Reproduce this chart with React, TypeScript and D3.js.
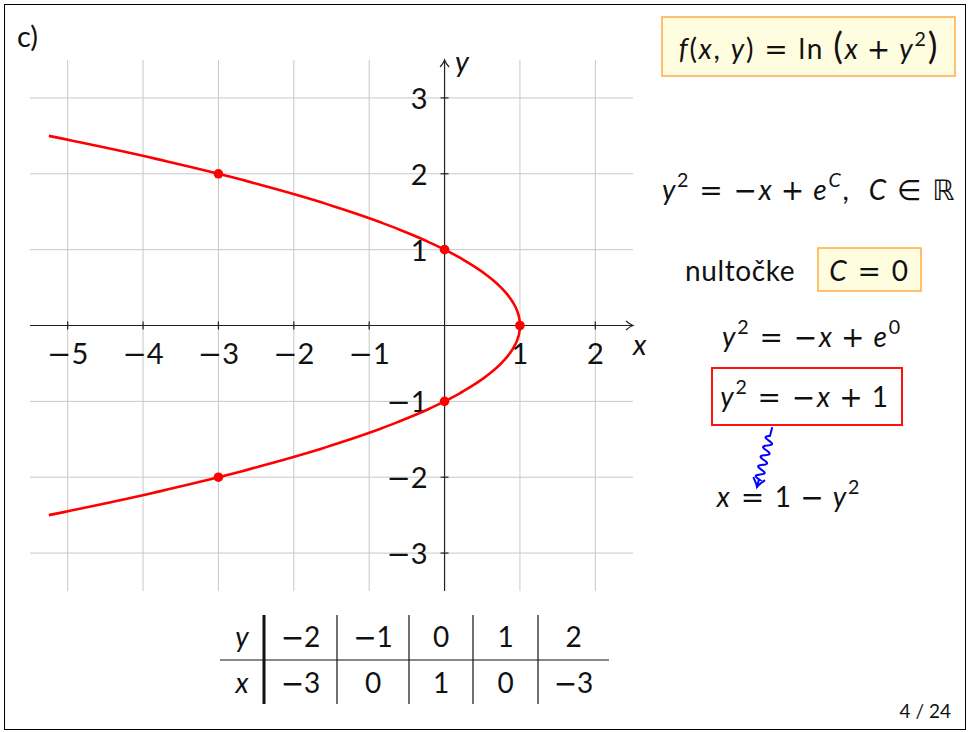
import React from "react";
import * as d3 from "d3";

// Axis ticks and table contents
const xTicks = [-5, -4, -3, -2, -1, 1, 2];
const yTicks = [-3, -2, -1, 1, 2, 3];
const gridX = [-5, -4, -3, -2, -1, 0, 1, 2];
const gridY = [-3, -2, -1, 0, 1, 2, 3];
const tableY = [-2, -1, 0, 1, 2];
const tableX = [-3, 0, 1, 0, -3];
const curveYRange = [-2.5, 2.5];

const W = 971;
const H = 732;
const FONT = "Lato, 'DejaVu Sans', sans-serif";
const OPFONT = "'DejaVu Sans', sans-serif";

const xScale = d3.scaleLinear().domain([-5.5, 2.5]).range([30, 633]);
const yScale = d3.scaleLinear().domain([-3.5, 3.5]).range([591, 60]);

// Number with a typographic minus sign
function Num({ v }: { v: number }) {
  if (v >= 0) return <>{String(v)}</>;
  return (
    <>
      <tspan fontFamily={OPFONT}>{"\u2212"}</tspan>
      <tspan>{String(Math.abs(v))}</tspan>
    </>
  );
}

type Part = [string, string?];

// Math-like line: "i" italic, "s" superscript, "si" italic superscript,
// "b" large delimiter, "rel" relation, "bin" binary operator, "un" unary operator
function MathText({ x, y, parts, size = 28, anchor = "start", fill = "#111", spacing = 1.8 }: { x: number; y: number; parts: Part[]; size?: number; anchor?: string; fill?: string; spacing?: number }) {
  let shift = 0;
  let pending = 0;
  const gaps: Record<string, number> = { rel: 0.32, bin: 0.26 };
  return (
    <text x={x} y={y} fontSize={size} fontFamily={FONT} textAnchor={anchor as any} fill={fill} letterSpacing={spacing} style={{ whiteSpace: "pre" }}>
      {parts.map(([t, st], i) => {
        const sup = st === "s" || st === "si";
        const target = sup ? -0.45 * size : 0;
        const dy = target - shift;
        shift = target;
        const gap = st && gaps[st] ? gaps[st] * size : 0;
        const dx = pending + gap;
        pending = gap;
        const isOp = st === "rel" || st === "bin" || st === "un";
        return (
          <tspan
            key={i}
            dy={dy}
            dx={dx}
            fontFamily={isOp ? OPFONT : undefined}
            fontStyle={st === "i" || st === "si" ? "italic" : "normal"}
            fontSize={sup ? size * 0.7 : st === "b" ? size * 1.3 : size}
          >
            {t}
          </tspan>
        );
      })}
    </text>
  );
}

function Squiggle({ x1, y1, x2, y2 }: { x1: number; y1: number; x2: number; y2: number }) {
  const dx = x2 - x1;
  const dy = y2 - y1;
  const L = Math.hypot(dx, dy);
  const ux = dx / L, uy = dy / L;
  const nx = -uy, ny = ux;
  const pts: [number, number][] = [];
  const lead = 8, tail = 7, amp = 4, wave = 10;
  for (let t = 0; t <= L; t += 0.5) {
    let off = 0;
    if (t > lead && t < L - tail) off = amp * Math.sin((2 * Math.PI * (t - lead)) / wave);
    pts.push([x1 + ux * t + nx * off, y1 + uy * t + ny * off]);
  }
  const line = d3.line();
  const ang = (Math.atan2(dy, dx) * 180) / Math.PI;
  return (
    <g stroke="#0000ff" fill="none" strokeWidth={2} strokeLinecap="round">
      <path d={line(pts) || ""} />
      <path d="M -8,-5.5 Q -2.5,-1 0,0 Q -2.5,1 -8,5.5" transform={`translate(${x2},${y2}) rotate(${ang})`} />
    </g>
  );
}

export default function App() {
  const x0 = xScale(0);
  const y0 = yScale(0);
  const curvePts = d3.range(curveYRange[0], curveYRange[1] + 1e-9, 0.02).map((y) => [xScale(1 - y * y), yScale(y)] as [number, number]);
  const curve = d3.line()(curvePts) || "";
  const colEdges = [220, 264, 337, 409, 473, 538, 609];
  const colMid = (i: number) => (colEdges[i] + colEdges[i + 1]) / 2;

  return (
    <div style={{ position: "absolute", left: 0, top: 0 }}>
      <svg width={W} height={H} style={{ display: "block", background: "#fff" }}>
        <rect x={4.5} y={4.5} width={961} height={725} fill="none" stroke="#000" strokeWidth={1} />
        <text x={17} y={47} fontSize={29} fontFamily={FONT} fill="#111">c)</text>

        {/* grid */}
        <g stroke="#c8c8c8" strokeWidth={1}>
          {gridX.map((v) => (
            <line key={"gx" + v} x1={xScale(v)} x2={xScale(v)} y1={60} y2={591} />
          ))}
          {gridY.map((v) => (
            <line key={"gy" + v} x1={30} x2={633} y1={yScale(v)} y2={yScale(v)} />
          ))}
        </g>

        {/* axes */}
        <g stroke="#222" strokeWidth={1.2} fill="none">
          <line x1={30} x2={632} y1={y0} y2={y0} />
          <line x1={x0} x2={x0} y1={591} y2={61} />
          <path d={`M ${626},${y0 - 4.5} Q ${630},${y0 - 1} ${633},${y0} Q ${630},${y0 + 1} ${626},${y0 + 4.5}`} />
          <path d={`M ${x0 - 4.5},${67} Q ${x0 - 1},${63} ${x0},${60} Q ${x0 + 1},${63} ${x0 + 4.5},${67}`} />
          {xTicks.map((v) => (
            <line key={"tx" + v} x1={xScale(v)} x2={xScale(v)} y1={y0 - 4} y2={y0 + 4} />
          ))}
          {yTicks.map((v) => (
            <line key={"ty" + v} x1={x0 - 4} x2={x0 + 4} y1={yScale(v)} y2={yScale(v)} />
          ))}
        </g>
        <g fontSize={29} fontFamily={FONT} fill="#111">
          {xTicks.map((v) => (
            <text key={"lx" + v} x={xScale(v)} y={y0 + 38} textAnchor="middle"><Num v={v} /></text>
          ))}
          {yTicks.map((v) => (
            <text key={"ly" + v} x={x0 - 17} y={yScale(v) + 11} textAnchor="end"><Num v={v} /></text>
          ))}
          <text x={633} y={355} fontStyle="italic">x</text>
          <text x={455} y={72} fontStyle="italic">y</text>
        </g>

        {/* curve x = 1 - y^2 */}
        <path d={curve} fill="none" stroke="#ff0000" strokeWidth={2.6} />
        {tableY.map((y, i) => (
          <circle key={"p" + i} cx={xScale(tableX[i])} cy={yScale(y)} r={4.8} fill="#ff0000" />
        ))}

        {/* right-hand notes */}
        <rect x={662} y={17} width={293} height={59} fill="#fffde0" stroke="#ffaa44" strokeWidth={1.5} />
        <MathText x={809} y={59} anchor="middle" parts={[["f", "i"], ["("], ["x", "i"], [", "], ["y", "i"], [")"], ["=", "rel"], ["ln "], ["(", "b"], ["x", "i"], ["+", "bin"], ["y", "i"], ["2", "s"], [")", "b"]]} />
        <MathText x={809} y={200} anchor="middle" parts={[["y", "i"], ["2", "s"], ["=", "rel"], ["\u2212", "un"], ["x", "i"], ["+", "bin"], ["e", "i"], ["C", "si"], [",  "], ["C", "i"], ["\u2208", "rel"], ["\u211D", "un"]]} />
        <text x={685} y={281} fontSize={28} fontFamily={FONT} fill="#111" letterSpacing={0.6}>nultočke</text>
        <rect x={818} y={248} width={103} height={43} fill="#fffde0" stroke="#ffaa44" strokeWidth={1.5} />
        <MathText x={869.5} y={281} anchor="middle" parts={[["C", "i"], ["=", "rel"], ["0"]]} />
        <MathText x={812} y={347} anchor="middle" parts={[["y", "i"], ["2", "s"], ["=", "rel"], ["\u2212", "un"], ["x", "i"], ["+", "bin"], ["e", "i"], ["0", "s"]]} />
        <rect x={712} y={368} width={190} height={57} fill="none" stroke="#ff1111" strokeWidth={2} />
        <MathText x={805} y={407} anchor="middle" parts={[["y", "i"], ["2", "s"], ["=", "rel"], ["\u2212", "un"], ["x", "i"], ["+", "bin"], ["1"]]} />
        <Squiggle x1={772} y1={428} x2={757} y2={487} />
        <MathText x={789} y={507} anchor="middle" parts={[["x", "i"], ["=", "rel"], ["1"], ["\u2212", "bin"], ["y", "i"], ["2", "s"]]} />

        {/* value table */}
        <g stroke="#111">
          <line x1={colEdges[0]} x2={colEdges[6]} y1={660} y2={660} strokeWidth={1.2} />
          <line x1={colEdges[1]} x2={colEdges[1]} y1={615} y2={704} strokeWidth={3} />
          {colEdges.slice(2, 6).map((e) => (
            <line key={"c" + e} x1={e} x2={e} y1={615} y2={704} strokeWidth={1.2} />
          ))}
        </g>
        <g fontSize={28} fontFamily={FONT} fill="#111" textAnchor="middle">
          <text x={colMid(0)} y={647} fontStyle="italic">y</text>
          <text x={colMid(0)} y={693} fontStyle="italic">x</text>
          {tableY.map((v, i) => (
            <text key={"ty" + i} x={colMid(i + 1)} y={647}><Num v={v} /></text>
          ))}
          {tableX.map((v, i) => (
            <text key={"tx" + i} x={colMid(i + 1)} y={693}><Num v={v} /></text>
          ))}
        </g>

        <text x={951} y={718} textAnchor="end" fontSize={19} fontFamily={FONT} fill="#111">4 / 24</text>
      </svg>
    </div>
  );
}
